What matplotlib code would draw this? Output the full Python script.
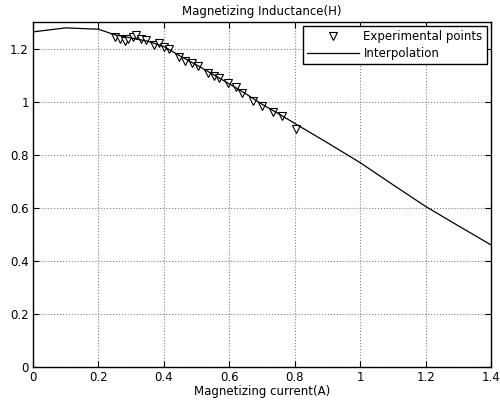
import matplotlib
matplotlib.use('Agg')
import matplotlib.pyplot as plt
from matplotlib.ticker import FuncFormatter

current_exp = [0.25, 0.265, 0.28, 0.29, 0.305, 0.315, 0.33, 0.345, 0.37, 0.385,
               0.40, 0.415, 0.445, 0.465, 0.485, 0.505, 0.535, 0.552, 0.57,
               0.595, 0.62, 0.64, 0.673, 0.70, 0.733, 0.76, 0.805]
induct_exp = [1.245, 1.235, 1.228, 1.238, 1.245, 1.25, 1.238, 1.232, 1.213, 1.222,
              1.205, 1.20, 1.168, 1.155, 1.145, 1.135, 1.107, 1.098, 1.09,
              1.069, 1.054, 1.033, 1.004, 0.985, 0.962, 0.944, 0.897]

# interpolation curve
current_fit = [0.0, 0.1, 0.2, 0.25, 0.3, 0.35, 0.4, 0.45, 0.5, 0.55, 0.6, 0.65,
               0.7, 0.75, 0.8, 0.9, 1.0, 1.1, 1.2, 1.3, 1.4]
induct_fit = [1.263, 1.278, 1.273, 1.252, 1.24, 1.228, 1.208, 1.172, 1.138, 1.103,
              1.067, 1.03, 0.99, 0.955, 0.918, 0.845, 0.77, 0.687, 0.605, 0.532, 0.46]

x_ticks = [0, 0.2, 0.4, 0.6, 0.8, 1.0, 1.2, 1.4]
y_ticks = [0, 0.2, 0.4, 0.6, 0.8, 1.0, 1.2]

plt.rcParams['font.family'] = ['DejaVu Sans']
plt.rcParams['font.size'] = 8.5

fig = plt.figure(figsize=(5.0, 4.01), dpi=100)
ax = fig.add_axes([0.066, 0.085, 0.916, 0.86])

ax.plot(current_exp, induct_exp, 'v', markersize=6, markerfacecolor='white',
        markeredgecolor='black', markeredgewidth=0.8, label='Experimental points')
ax.plot(current_fit, induct_fit, '-', color='black', linewidth=0.9, label='Interpolation')

ax.set_xlim(0, 1.4)
ax.set_ylim(0, 1.3)
ax.set_xticks(x_ticks)
ax.set_yticks(y_ticks)
fmt = FuncFormatter(lambda v, p: '%g' % v)
ax.xaxis.set_major_formatter(fmt)
ax.yaxis.set_major_formatter(fmt)
ax.tick_params(direction='in', top=True, right=True, length=4, width=0.8, pad=3)
ax.grid(True, linestyle=':', color='gray', linewidth=0.8)
for s in ax.spines.values():
    s.set_linewidth(1.0)

ax.set_title('Magnetizing Inductance(H)', fontsize=8.5, pad=5)
ax.set_xlabel('Magnetizing current(A)', labelpad=1)

leg = ax.legend(loc='upper right', fancybox=False, framealpha=1, edgecolor='black',
                borderaxespad=0.35, handlelength=4.4, handletextpad=0.4,
                borderpad=0.35, labelspacing=0.3)
leg.get_frame().set_linewidth(1.0)

fig.savefig('out.png', dpi=100)
